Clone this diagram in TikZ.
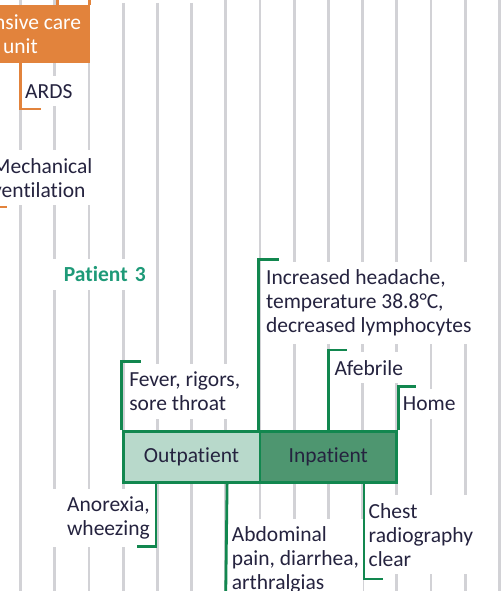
\documentclass[tikz,border=0pt]{standalone}
\usepackage{fontspec}
\setmainfont{Carlito}[Ligatures=NoCommon]
\definecolor{gridgray}{HTML}{D2D2D6}
\definecolor{dgreen}{HTML}{12874F}
\definecolor{lgreen}{HTML}{B8D9CB}
\definecolor{mgreen}{HTML}{4E9670}
\definecolor{orng}{HTML}{E2833C}
\definecolor{txt}{HTML}{25233F}
\definecolor{teal3}{HTML}{1E9A78}
\begin{document}
\begin{tikzpicture}[x=1pt, y=-1pt,
  gridline/.style={draw=gridgray, line width=2.8pt},
  lab/.style={fill=white, inner xsep=4pt, inner ysep=8pt, align=left, text=txt, font=\fontsize{21.5pt}{24pt}\selectfont},
  gbr/.style={draw=dgreen, line width=2.8pt},
  obr/.style={draw=orng, line width=2.8pt},
  stagebox/.style={draw=dgreen, line width=2.8pt, minimum width=136.8pt, minimum height=51.2pt, inner sep=0pt, text=txt, font=\fontsize{21.5pt}{24pt}\selectfont},
]
\useasboundingbox (0,0) rectangle (501,591);
% background grid
\foreach \k in {0,1,2,6,7,8,9,10,11,12,13,14} {
  \draw[gridline] ({20.5+34.2*\k},0) -- ({20.5+34.2*\k},591);
}
\foreach \k in {3,4,5} {
  \draw[gridline] ({20.5+34.2*\k},3) -- ({20.5+34.2*\k},591);
}
% labels
\node[lab, anchor=north west] (inc) at (261.9,261.5) {Increased headache,\\temperature 38.8°C,\\decreased lymphocytes};
\node[lab, anchor=north west] (afeb) at (330.3,352) {Afebrile};
\node[lab, anchor=north west] (home) at (398.7,388.7) {Home};
\node[lab, anchor=north west] (fever) at (125.1,363.7) {Fever, rigors,\\sore throat};
\node[lab, anchor=north east, text width=94pt, align=right, text=teal3, font=\fontsize{21.5pt}{24pt}\selectfont\bfseries] (pat3) at (150,258.3) {Patient~3};
\node[lab, anchor=north west] (ards) at (21,76) {ARDS};
\node[lab, anchor=north west] (mech) at (-12,150) {Mechanical\\ventilation};
\node[lab, anchor=north east, text width=96pt, align=right] (anor) at (154,488.3) {Anorexia,\\wheezing};
\node[lab, anchor=north west] (abd) at (227.7,518.3) {Abdominal\\pain, diarrhea,\\arthralgias};
\node[lab, anchor=north west] (chest) at (364.5,495) {Chest\\radiography\\clear};
% boxes
\node[fill=orng, text=white, minimum width=139.6pt, minimum height=58pt, inner sep=0pt, align=center, font=\fontsize{21.5pt}{23.4pt}\selectfont] (icu) at (20.5,34) {Intensive care\\unit};
\node[stagebox, fill=lgreen] (outp) at (191.5,457) {Outpatient};
\node[stagebox, fill=mgreen] (inp) at (328.3,457) {Inpatient};
% orange connectors
\draw[obr] ([xshift=-1.4pt]icu.north east) -- ++(0,-6);
\draw[obr] ([xshift=37pt]icu.north) -- ++(0,-6);
\coordinate (ardsend) at (40.7,109);
\draw[obr] (icu.south) |- (ardsend);
\coordinate (mechend) at (7,207);
\draw[obr] ([xshift=-34.2pt]icu.south) |- (mechend);
% green connectors
\draw[gbr] (outp.north west) |- ([shift={(16pt,2pt)}]fever.north west);
\draw[gbr] (inp.north west) |- ([shift={(17pt,2pt)}]inc.north west);
\draw[gbr] (inp.north) |- ([shift={(17pt,2pt)}]afeb.north west);
\draw[gbr] (inp.north east) |- ([shift={(17pt,2pt)}]home.north west);
\coordinate (anorend) at (136.7,546.7);
\draw[gbr] ([xshift=34.2pt]outp.south west) |- (anorend);
\coordinate (abdend) at (225.7,596);
\draw[gbr] ([xshift=-34.2pt]outp.south east) -- (abdend);
\coordinate (chestend) at (383.3,579);
\draw[gbr] ([xshift=-34.2pt]inp.south east) |- (chestend);
\end{tikzpicture}
\end{document}
